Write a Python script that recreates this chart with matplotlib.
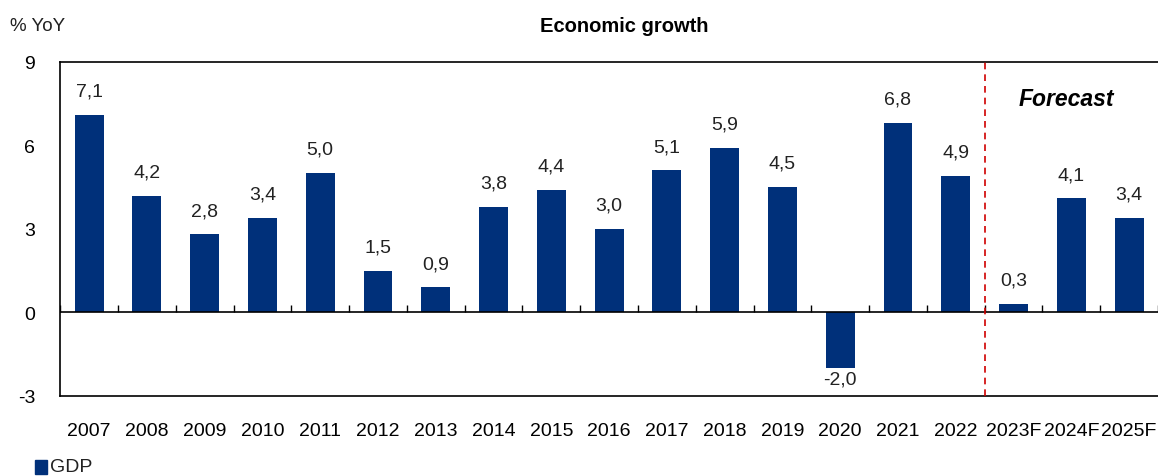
import numpy as np
import matplotlib.pyplot as plt

years = ['2007', '2008', '2009', '2010', '2011', '2012', '2013', '2014', '2015', '2016',
         '2017', '2018', '2019', '2020', '2021', '2022', '2023F', '2024F', '2025F']
gdp = [7.1, 4.2, 2.8, 3.4, 5.0, 1.5, 0.9, 3.8, 4.4, 3.0,
       5.1, 5.9, 4.5, -2.0, 6.8, 4.9, 0.3, 4.1, 3.4]
yticks = [-3, 0, 3, 6, 9]
forecast_start = 16

bar_color = '#00307A'
plt.rcParams['font.family'] = ['Liberation Sans', 'DejaVu Sans']

fig = plt.figure(figsize=(11.58, 4.77), dpi=100)
ax = fig.add_axes([0.052, 0.168, 0.948, 0.700])

x = np.arange(len(years))
ax.bar(x, gdp, width=0.5, color=bar_color, zorder=2)

for xi, v in zip(x, gdp):
    lab = f'{v:.1f}'.replace('.', ',')
    if v >= 0:
        ax.annotate(lab, (xi, v), xytext=(0, 11), textcoords='offset points',
                    ha='center', va='bottom', fontsize=14, color='#222222')
    else:
        ax.annotate(lab, (xi, v), xytext=(0, -2), textcoords='offset points',
                    ha='center', va='top', fontsize=14, color='#222222')

ax.axhline(0, color='black', lw=1.2, zorder=3)
ax.vlines(np.arange(-0.5, len(years)), 0, 0.25, color='black', lw=1, zorder=3)
ax.axvline(forecast_start - 0.5, color='#D00000', ls=(0, (4, 3)), lw=1.2, zorder=3)

ax.set_xlim(-0.5, len(years) - 0.5)
ax.set_ylim(-3, 9)
ax.set_yticks(yticks)
ax.set_yticklabels([str(t) for t in yticks], fontsize=14)
ax.set_xticks(x)
ax.set_xticklabels(years, fontsize=14)
ax.tick_params(axis='y', length=0, pad=18)
ax.tick_params(axis='x', length=0, pad=19)
for s in ax.spines.values():
    s.set_linewidth(1.2)
ax.spines['right'].set_visible(False)

ax.text(16.92, 7.67, 'Forecast', fontsize=16.5, fontweight='bold', style='italic',
        ha='center', va='center')

fig.text(0.539, 0.945, 'Economic growth', fontsize=14.5, fontweight='bold',
         ha='center', va='center')
fig.text(0.009, 0.945, '% YoY', fontsize=13.5, ha='left', va='center', color='#222222')

fig.patches.append(plt.Rectangle((0.030, 0.004), 0.011, 0.03, transform=fig.transFigure,
                                 color=bar_color, figure=fig))
fig.text(0.043, 0.003, 'GDP', fontsize=14, ha='left', va='bottom', color='#222222')

fig.savefig('out.png', dpi=100)
